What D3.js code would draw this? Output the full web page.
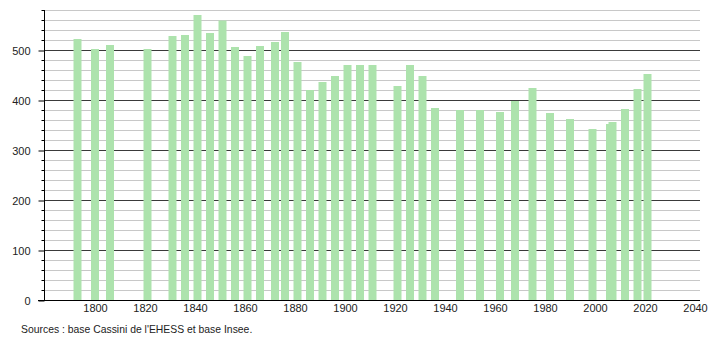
<!DOCTYPE html>
<html>
<head>
<meta charset="utf-8">
<script src="https://cdn.jsdelivr.net/npm/d3@7"></script>
<style>
  body { margin: 0; background: #fff; }
  text { font-family: "Liberation Sans", Arial, sans-serif; }
</style>
</head>
<body>
<div id="graph"></div>
<script>
// census years and population
var years = [1793, 1800, 1806, 1821, 1831, 1836, 1841, 1846, 1851, 1856,
   1861, 1866, 1872, 1876, 1881, 1886, 1891, 1896, 1901, 1906,
   1911, 1921, 1926, 1931, 1936, 1946, 1954, 1962, 1968, 1975,
   1982, 1990, 1999, 2006, 2007, 2012, 2017, 2021];
var population = [522, 502, 510, 502, 528, 530, 570, 534, 559, 506,
   488, 508, 516, 536, 476, 420, 436, 448, 470, 470,
   470, 428, 470, 448, 384, 380, 380, 376, 398, 424,
   374, 362, 342, 352, 356, 382, 422, 452];
var xTicks = [1800, 1820, 1840, 1860, 1880, 1900, 1920, 1940, 1960, 1980, 2000, 2020, 2040];
var yTicks = [0, 100, 200, 300, 400, 500];
var sourceText = "Sources : base Cassini de l'EHESS et base Insee.";

var width = 710;
var height = 340;

var svg = d3.select("#graph").
append("svg").
attr("width", width).
attr("height", height);

var xScale = d3.scaleLinear().
domain([1780, 2042]).
range([45, 700]);

var yScale = d3.scaleLinear().
domain([0, 580]).
range([300, 10]);

var minorTicks = d3.range(0, 581, 20).filter(function (v) {return v % 100 !== 0;});

// minor grid
svg.append("g").
selectAll("line").
data(minorTicks).
enter().
append("line").
attr("x1", xScale(1780)).
attr("x2", xScale(2042)).
attr("y1", function (d) {return yScale(d) + 0.5;}).
attr("y2", function (d) {return yScale(d) + 0.5;}).
attr("stroke", "#c8c8c8").
attr("stroke-width", 1);

// major grid
svg.append("g").
selectAll("line").
data(yTicks.slice(1)).
enter().
append("line").
attr("x1", xScale(1780)).
attr("x2", xScale(2042)).
attr("y1", function (d) {return yScale(d) + 0.5;}).
attr("y2", function (d) {return yScale(d) + 0.5;}).
attr("stroke", "#3a3a3a").
attr("stroke-width", 1);

// bars
svg.append("g").
selectAll("rect").
data(years).
enter().
append("rect").
attr("x", function (d) {return xScale(d) - 4;}).
attr("width", 8).
attr("y", function (d, i) {return yScale(population[i]);}).
attr("height", function (d, i) {return yScale(0) - yScale(population[i]);}).
attr("fill", "#ade3ad");

// y axis
var yAxis = d3.axisLeft(yScale).
tickValues(yTicks).
tickSize(6).
tickFormat(d3.format("d"));

var gy = svg.append("g").
attr("transform", "translate(" + 44.5 + ",0.5)").
call(yAxis);
gy.select(".domain").remove();
gy.selectAll(".tick line").attr("stroke", "#000");
gy.selectAll(".tick text").
attr("x", -14).
style("font-size", "11px").
attr("fill", "#222");

gy.selectAll(".minor").
data(minorTicks).
enter().
append("line").
attr("class", "minor").
attr("x1", -3).
attr("x2", 0).
attr("y1", function (d) {return yScale(d);}).
attr("y2", function (d) {return yScale(d);}).
attr("stroke", "#000");

svg.append("line").
attr("x1", 44.5).
attr("x2", 44.5).
attr("y1", yScale(580)).
attr("y2", yScale(0) + 0.5).
attr("stroke", "#000");

// x axis
var xAxis = d3.axisBottom(xScale).
tickValues(xTicks).
tickSize(0).
tickFormat(d3.format("d"));

var gx = svg.append("g").
attr("transform", "translate(0," + (yScale(0) + 0.5) + ")").
call(xAxis);
gx.select(".domain").remove();
gx.selectAll(".tick text").
attr("y", 4).
style("font-size", "11px").
attr("fill", "#222");

svg.append("line").
attr("x1", 38).
attr("x2", xScale(2042)).
attr("y1", yScale(0) + 0.5).
attr("y2", yScale(0) + 0.5).
attr("stroke", "#000");

svg.append("text").
attr("x", 21).
attr("y", 333).
style("font-size", "10.4px").
attr("fill", "#222").
text(sourceText);
</script>
</body>
</html>
